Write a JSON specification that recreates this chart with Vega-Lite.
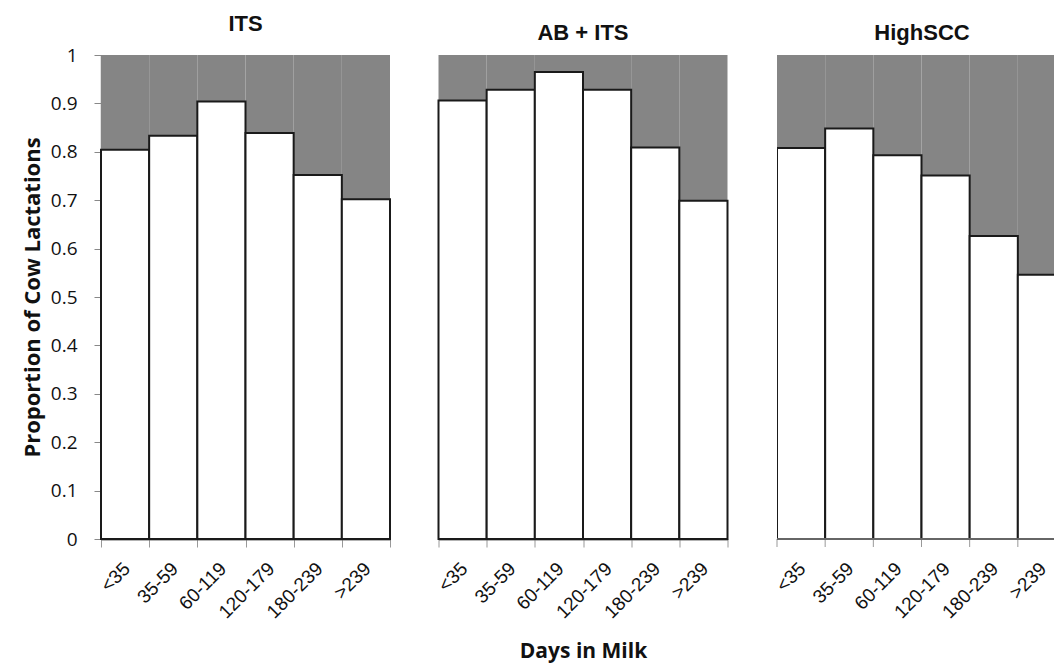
{
  "$schema": "https://vega.github.io/schema/vega-lite/v6.json",
  "background": "white",
  "padding": {"left": 21, "top": 13, "right": 0, "bottom": 6},
  "config": {"view": {"stroke": null}, "axis": {"grid": false}},
  "spacing": 43.5,
  "datasets": {
    "d": [
      {"panel": "ITS", "dim": "<35", "v": 0.804},
      {"panel": "ITS", "dim": "35-59", "v": 0.833},
      {"panel": "ITS", "dim": "60-119", "v": 0.904},
      {"panel": "ITS", "dim": "120-179", "v": 0.839},
      {"panel": "ITS", "dim": "180-239", "v": 0.752},
      {"panel": "ITS", "dim": ">239", "v": 0.702},
      {"panel": "AB + ITS", "dim": "<35", "v": 0.906},
      {"panel": "AB + ITS", "dim": "35-59", "v": 0.928},
      {"panel": "AB + ITS", "dim": "60-119", "v": 0.965},
      {"panel": "AB + ITS", "dim": "120-179", "v": 0.928},
      {"panel": "AB + ITS", "dim": "180-239", "v": 0.809},
      {"panel": "AB + ITS", "dim": ">239", "v": 0.699},
      {"panel": "HighSCC", "dim": "<35", "v": 0.808},
      {"panel": "HighSCC", "dim": "35-59", "v": 0.848},
      {"panel": "HighSCC", "dim": "60-119", "v": 0.793},
      {"panel": "HighSCC", "dim": "120-179", "v": 0.751},
      {"panel": "HighSCC", "dim": "180-239", "v": 0.626},
      {"panel": "HighSCC", "dim": ">239", "v": 0.546}
    ]
  },
  "hconcat": [
    {
      "width": 289, "height": 484,
      "title": {"text": "ITS", "font": "Liberation Sans", "fontSize": 22, "fontWeight": "bold", "color": "#111", "offset": -7, "baseline": "alphabetic"},
      "data": {"name": "d"},
      "transform": [{"filter": "datum.panel === 'ITS'"}],
      "encoding": {
        "x": {"field": "dim", "type": "ordinal", "sort": ["<35", "35-59", "60-119", "120-179", "180-239", ">239"],
          "scale": {"paddingInner": 0, "paddingOuter": 0},
          "axis": {"title": null, "labelAngle": -45, "labelAlign": "right", "labelBaseline": "top", "labelOffset": -5, "labelFont": "Liberation Sans", "labelFontSize": 19, "labelColor": "#111", "tickBand": "extent", "tickColor": "#999", "tickSize": 8, "domainColor": "#666", "domainWidth": 2, "labelPadding": 12}}
      },
      "layer": [
        {"mark": {"type": "bar", "fill": "#858585"},
         "encoding": {"y": {"field": "v", "type": "quantitative", "scale": {"domain": [0, 1]},
            "axis": {"values": [0, 0.1, 0.2, 0.3, 0.4, 0.5, 0.6, 0.7, 0.8, 0.9, 1], "format": "~g", "labelFont": "Open Sans", "labelFontSize": 19, "labelColor": "#111", "tickColor": "#888", "tickSize": 7, "domainColor": "#888", "domainWidth": 1.5, "labelPadding": 17, "title": "Proportion of Cow Lactations", "titleFont": "Open Sans", "titleFontSize": 22, "titleFontWeight": "bold", "titleColor": "#111", "titlePadding": 6}},
           "y2": {"datum": 1}}},
        {"mark": {"type": "bar", "fill": "white", "stroke": "#1a1a1a", "strokeWidth": 2},
         "encoding": {"y": {"field": "v", "type": "quantitative", "stack": null}, "y2": {"datum": 0}}}
      ]
    },
    {
      "width": 289, "height": 484,
      "title": {"text": "AB + ITS", "font": "Liberation Sans", "fontSize": 22, "fontWeight": "bold", "color": "#111", "offset": -7, "baseline": "alphabetic"},
      "data": {"name": "d"},
      "transform": [{"filter": "datum.panel === 'AB + ITS'"}],
      "encoding": {
        "x": {"field": "dim", "type": "ordinal", "sort": ["<35", "35-59", "60-119", "120-179", "180-239", ">239"],
          "scale": {"paddingInner": 0, "paddingOuter": 0},
          "axis": {"title": "Days in Milk", "titleFont": "Open Sans", "titleFontSize": 21, "titleFontWeight": "bold", "titleColor": "#111", "titlePadding": 19, "labelAngle": -45, "labelAlign": "right", "labelBaseline": "top", "labelOffset": -5, "labelFont": "Liberation Sans", "labelFontSize": 19, "labelColor": "#111", "tickBand": "extent", "tickColor": "#999", "tickSize": 8, "domainColor": "#666", "domainWidth": 2, "labelPadding": 12}}
      },
      "layer": [
        {"mark": {"type": "bar", "fill": "#858585"},
         "encoding": {"y": {"field": "v", "type": "quantitative", "scale": {"domain": [0, 1]}, "axis": null},
           "y2": {"datum": 1}}},
        {"mark": {"type": "bar", "fill": "white", "stroke": "#1a1a1a", "strokeWidth": 2},
         "encoding": {"y": {"field": "v", "type": "quantitative", "stack": null}, "y2": {"datum": 0}}}
      ]
    },
    {
      "width": 278, "height": 484,
      "title": {"text": "HighSCC", "font": "Liberation Sans", "fontSize": 22, "fontWeight": "bold", "color": "#111", "offset": -7, "baseline": "alphabetic", "dx": 6},
      "data": {"name": "d"},
      "transform": [{"filter": "datum.panel === 'HighSCC'"}],
      "layer": [
        {"mark": {"type": "bar", "fill": "#858585", "clip": true},
         "encoding": {
           "x": {"field": "dim", "type": "ordinal", "sort": ["<35", "35-59", "60-119", "120-179", "180-239", ">239"],
             "scale": {"paddingInner": 0, "paddingOuter": 0, "range": [0, 289]},
             "axis": {"title": null, "domain": false, "ticks": false, "labelAngle": -45, "labelAlign": "right", "labelBaseline": "top", "labelOffset": -5, "labelFont": "Liberation Sans", "labelFontSize": 19, "labelColor": "#111", "labelPadding": 20}},
           "y": {"field": "v", "type": "quantitative", "scale": {"domain": [0, 1]}, "axis": null},
           "y2": {"datum": 1}}},
        {"mark": {"type": "bar", "fill": "white", "stroke": "#1a1a1a", "strokeWidth": 2, "clip": true},
         "encoding": {
           "x": {"field": "dim", "type": "ordinal", "sort": ["<35", "35-59", "60-119", "120-179", "180-239", ">239"]},
           "y": {"field": "v", "type": "quantitative", "stack": null}, "y2": {"datum": 0}}},
        {"mark": {"type": "rule", "color": "#999", "strokeWidth": 1, "y2Offset": 8},
         "encoding": {
           "x": {"field": "dim", "type": "ordinal", "sort": ["<35", "35-59", "60-119", "120-179", "180-239", ">239"], "bandPosition": 0},
           "y": {"datum": 0}, "y2": {"datum": 0}}},
        {"mark": {"type": "rule", "color": "#666", "strokeWidth": 2},
         "encoding": {"y": {"datum": 0}}}
      ]
    }
  ]
}
